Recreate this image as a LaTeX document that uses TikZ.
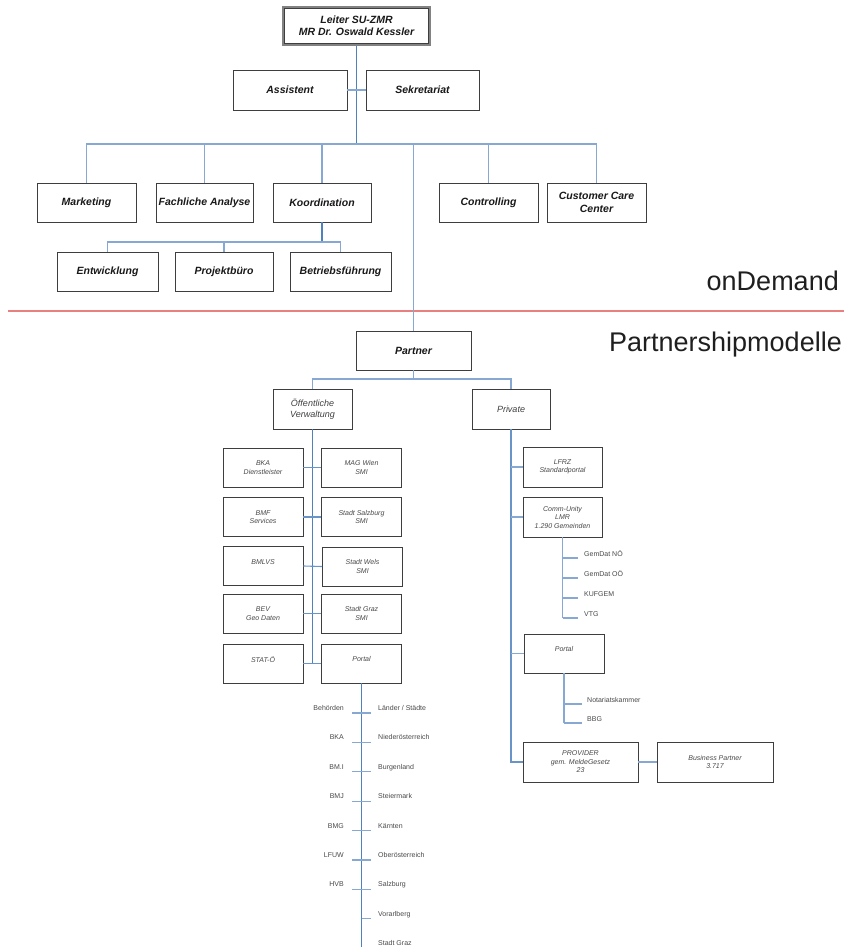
\documentclass[tikz,border=0pt]{standalone}
\usepackage{fontspec}
\setmainfont{Liberation Sans}
\definecolor{trunkblue}{RGB}{79,129,189}
\definecolor{branchblue}{RGB}{135,168,210}
\definecolor{boxline}{RGB}{62,62,62}
\definecolor{framegray}{RGB}{130,130,130}
\definecolor{divider}{RGB}{232,128,128}
\definecolor{smalltext}{RGB}{72,72,72}
\tikzset{
  boxsize/.style 2 args={minimum width=#1pt, minimum height=#2pt},
  orgbox/.style={draw=boxline, line width=0.9pt, fill=white, inner sep=0pt, align=center},
  headbox/.style={orgbox, font=\fontsize{10.5}{12.5}\selectfont\bfseries\itshape, text=black!90},
  groupbox/.style={orgbox, font=\fontsize{9}{11}\selectfont\itshape, text=black!75, boxsize={79}{40}},
  unitbox/.style={orgbox, line width=0.8pt, font=\fontsize{7}{8.5}\selectfont\itshape, text=smalltext, boxsize={80}{39}},
  trunk/.style={draw=trunkblue, line width=1.6pt},
  spoke/.style={draw=trunkblue!85, line width=1.1pt},
  branch/.style={draw=branchblue, line width=1.2pt},
  listlabel/.style={font=\fontsize{7}{8.5}\selectfont, text=smalltext, inner sep=0pt},
  region/.style={font=\fontsize{27}{30}\selectfont, text=black!88, inner sep=0pt},
  divline/.style={draw=divider, line width=1.1pt},
}
\begin{document}
\begin{tikzpicture}[x=1pt, y=-1pt]
\useasboundingbox (0,0) rectangle (844,947);

% ---------- management level ----------
% head box with a framed (double) border
\node[headbox, boxsize={146}{37}, draw=framegray, line width=2.2pt] (lead) at (356.5,26) {Leiter SU-ZMR\\MR Dr. Oswald Kessler};
\draw[boxline, line width=0.7pt] ([shift={(2.2pt,-2.2pt)}]lead.north west) rectangle ([shift={(-2.2pt,2.2pt)}]lead.south east);
\node[headbox, boxsize={114}{40}] (asst) at (290,90) {Assistent};
\node[headbox, boxsize={113}{40}] (sekr) at (422.5,90) {Sekretariat};

\node[headbox, boxsize={99}{39}] (mkt)   at (86.5,202.5)  {Marketing};
\node[headbox, boxsize={97}{39}] (fach)  at (204.5,202.5) {Fachliche Analyse};
\node[headbox, boxsize={98}{39}] (koord) at (322,202.5)   {Koordination};
\node[headbox, boxsize={99}{39}] (contr) at (488.5,202.5) {Controlling};
\node[headbox, boxsize={99}{39}] (ccc)   at (596.5,202.5) {Customer Care\\Center};

\node[headbox, boxsize={101}{39}] (entw) at (107.5,271.5) {Entwicklung};
\node[headbox, boxsize={98}{39}]  (proj) at (224,271.5)   {Projektbüro};
\node[headbox, boxsize={101}{39}] (betr) at (340.5,271.5) {Betriebsführung};

% ---------- section divider ----------
\coordinate (divL) at (8,311);
\coordinate (divR) at (844,311);
\draw[divline] (divL) -- (divR);
\node[region, anchor=base east] (ondemand) at (839,290) {onDemand};
\node[region, anchor=base east] (pmodel) at (842,351) {Partnershipmodelle};

% ---------- partnership level ----------
\node[headbox, boxsize={115}{39}] (partner) at (413.5,350.5) {Partner};
\node[groupbox] (oeff) at (312.5,409) {Öffentliche\\Verwaltung};
\node[groupbox, boxsize={78}{40}] (priv) at (511,409) {Private};

% public administration, two columns
\node[unitbox] (bka)   at (263,467.5)   {BKA\\Dienstleister};
\node[unitbox] (mag)   at (361.5,467.5) {MAG Wien\\SMI};
\node[unitbox] (bmf)   at (263,517)     {BMF\\Services};
\node[unitbox] (sbg)   at (361.5,517)   {Stadt Salzburg\\SMI};
\node[unitbox] (bmlvs) at (263,566)     {BMLVS\\\mbox{}};
\node[unitbox] (wels)  at (362.5,566.5) {Stadt Wels\\SMI};
\node[unitbox] (bev)   at (263,613.5)   {BEV\\Geo Daten};
\node[unitbox] (graz)  at (361.5,613.5) {Stadt Graz\\SMI};
\node[unitbox] (stat)  at (263,663.5)   {STAT-Ö\\\mbox{}};
\node[unitbox] (portalA) at (361.5,663.5) {Portal\\\mbox{}};

% private partners
\node[unitbox, boxsize={79}{40}] (lfrz) at (562.5,467) {LFRZ\\Standardportal};
\node[unitbox, boxsize={79}{40}] (comm) at (562.5,517) {Comm-Unity\\LMR\\1.290 Gemeinden};
\node[unitbox] (portalB) at (564,653.5) {Portal\\\mbox{}};
\node[unitbox, boxsize={115}{40}] (prov)  at (580.5,762) {PROVIDER\\gem. MeldeGesetz\\23};
\node[unitbox, boxsize={116}{40}] (bpart) at (715,762)   {Business Partner\\3.717};

% ---------- connectors: top ----------
\coordinate (bus) at (356.5,144);
\draw[trunk] (lead.south) -- (bus);
\draw[branch] (asst.east) -- (sekr.west);
\draw[branch] (mkt.north) |- (bus) -| (ccc.north);
\draw[branch] (fach.north) -- (fach.north |- bus);
\draw[branch] (koord.north) -- (koord.north |- bus);
\draw[branch] (contr.north) -- (contr.north |- bus);
\draw[branch] (partner.north) -- (partner.north |- bus);

\coordinate (kbus) at (322,242);
\draw[trunk, line width=1.3pt] (koord.south) -- (kbus);
\draw[branch] (entw.north) |- (kbus) -| (betr.north);
\draw[branch] (proj.north) -- (proj.north |- kbus);

% ---------- connectors: partnership ----------
\coordinate (pbus) at (413.5,379);
\draw[branch] (partner.south) -- (pbus);
\draw[branch] (oeff.north) |- (pbus) -| (priv.north);

% public column spine and rows
\coordinate (oeffEnd) at (312.5,663.5);
\draw[trunk] (oeff.south) -- (oeffEnd);
\draw[spoke] (bka.east) -- (mag.west);
\draw[spoke] (bmf.east) -- (sbg.west);
\draw[spoke] (bmlvs.east) -- (wels.west);
\draw[spoke] (bev.east) -- (graz.west);
\draw[spoke] (stat.east) -- (portalA.west);

% portal list
\coordinate (spineEnd) at (361.5,947);
\draw[trunk] (portalA.south) -- (spineEnd);
\foreach \i/\y in {1/713,2/742.4,3/771.8,4/801.2,5/830.6,6/860,7/889.4,8/918.8,9/948.2}
  \coordinate (s\i) at (361.5,\y);
\foreach \i in {1,...,7}
  \draw[branch] ([xshift=-9.5pt]s\i) -- ([xshift=9.5pt]s\i);
\draw[branch] (s8) -- ([xshift=9.5pt]s8);

\node[listlabel, anchor=base east] (l1) at ([xshift=-17.5pt, yshift=2.5pt]s1) {Behörden};
\node[listlabel, anchor=base east] (l2) at ([xshift=-17.5pt, yshift=2.5pt]s2) {BKA};
\node[listlabel, anchor=base east] (l3) at ([xshift=-17.5pt, yshift=2.5pt]s3) {BM.I};
\node[listlabel, anchor=base east] (l4) at ([xshift=-17.5pt, yshift=2.5pt]s4) {BMJ};
\node[listlabel, anchor=base east] (l5) at ([xshift=-17.5pt, yshift=2.5pt]s5) {BMG};
\node[listlabel, anchor=base east] (l6) at ([xshift=-17.5pt, yshift=2.5pt]s6) {LFUW};
\node[listlabel, anchor=base east] (l7) at ([xshift=-17.5pt, yshift=2.5pt]s7) {HVB};

\node[listlabel, anchor=base west] (r1) at ([xshift=16.5pt, yshift=2.5pt]s1) {Länder / Städte};
\node[listlabel, anchor=base west] (r2) at ([xshift=16.5pt, yshift=2.5pt]s2) {Niederösterreich};
\node[listlabel, anchor=base west] (r3) at ([xshift=16.5pt, yshift=2.5pt]s3) {Burgenland};
\node[listlabel, anchor=base west] (r4) at ([xshift=16.5pt, yshift=2.5pt]s4) {Steiermark};
\node[listlabel, anchor=base west] (r5) at ([xshift=16.5pt, yshift=2.5pt]s5) {Kärnten};
\node[listlabel, anchor=base west] (r6) at ([xshift=16.5pt, yshift=2.5pt]s6) {Oberösterreich};
\node[listlabel, anchor=base west] (r7) at ([xshift=16.5pt, yshift=2.5pt]s7) {Salzburg};
\node[listlabel, anchor=base west] (r8) at ([xshift=16.5pt, yshift=2.5pt]s8) {Vorarlberg};
\node[listlabel, anchor=base west] (r9) at ([xshift=16.5pt, yshift=2.5pt]s9) {Stadt Graz};

% private column spine
\draw[spoke, line width=1.3pt] (priv.south) |- (prov.west);
\draw[branch] (lfrz.west) -- (lfrz.west -| priv.south);
\draw[branch] (comm.west) -- (comm.west -| priv.south);
\draw[branch] (portalB.west) -- (portalB.west -| priv.south);
\draw[branch] (prov.east) -- (bpart.west);

% Comm-Unity members
\foreach \i/\y in {1/558,2/578,3/598,4/618}
  \coordinate (c\i) at (563,\y);
\draw[branch] (c4 -| comm.south) -- (comm.south);
\foreach \i in {1,...,4}
  \draw[branch] (c\i) -- ([xshift=15pt]c\i);
\node[listlabel, anchor=base west] (g1) at ([xshift=21pt, yshift=2pt]c1) {GemDat NÖ};
\node[listlabel, anchor=base west] (g2) at ([xshift=21pt, yshift=2pt]c2) {GemDat OÖ};
\node[listlabel, anchor=base west] (g3) at ([xshift=21pt, yshift=2pt]c3) {KUFGEM};
\node[listlabel, anchor=base west] (g4) at ([xshift=21pt, yshift=2pt]c4) {VTG};

% private portal members
\coordinate (p1) at (564,704);
\coordinate (p2) at (564,723);
\draw[branch] (portalB.south) -- (p2);
\draw[branch] (p1) -- ([xshift=18pt]p1);
\draw[branch] (p2) -- ([xshift=18pt]p2);
\node[listlabel, anchor=base west] (n1) at ([xshift=23pt, yshift=2pt]p1) {Notariatskammer};
\node[listlabel, anchor=base west] (n2) at ([xshift=23pt, yshift=2pt]p2) {BBG};
\end{tikzpicture}
\end{document}
